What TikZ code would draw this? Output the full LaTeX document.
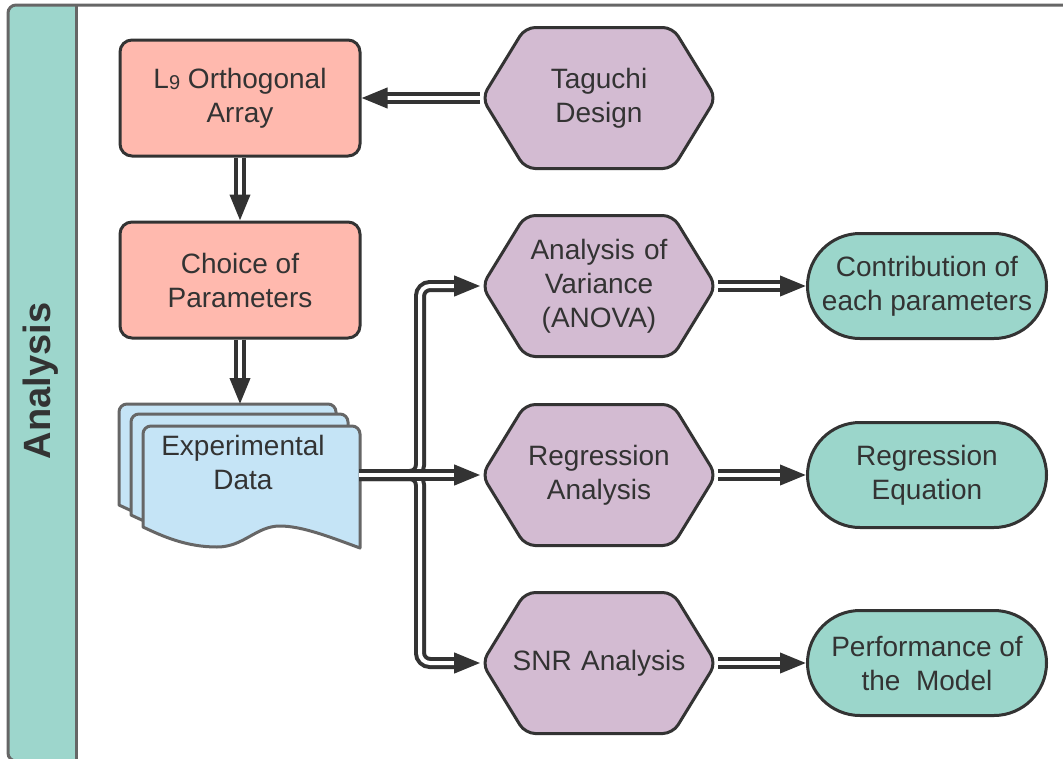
\documentclass[tikz,border=0pt]{standalone}
\usepackage{fontspec}
\setmainfont{Liberation Sans}
\usetikzlibrary{positioning,arrows.meta,shapes.symbols,shapes.misc}

% one sheet of the stacked data symbol, shifted by (#1,#2)
\newcommand{\datasheet}[2]{%
  \draw[sheet, shift={(#1,#2)}] (143,527) [rounded corners=8pt] -- (143,426) -- (360,426)
    [sharp corners] -- (360,548)
    .. controls (330,537) and (302,526) .. (280,526)
    .. controls (256,526) and (244,547) .. (217,547)
    .. controls (186,547) and (162,536) .. (143,527) -- cycle;}

\begin{document}
\begin{tikzpicture}[x=1pt,y=-1pt]
  \definecolor{lanegreen}{RGB}{157,214,204}
  \definecolor{boxred}{RGB}{255,185,174}
  \definecolor{hexpurple}{RGB}{211,187,210}
  \definecolor{termgreen}{RGB}{155,214,203}
  \definecolor{sheetblue}{RGB}{197,228,246}
  \definecolor{inkgray}{RGB}{51,51,51}
  \definecolor{framegray}{RGB}{102,102,102}
  \tikzset{
    txt/.style={font=\fontsize{28}{34}\selectfont, text=inkgray, align=center},
    stepbox/.style={
      txt, rectangle, rounded corners=12pt, draw=inkgray, fill=boxred,
      line width=3pt, minimum width=240pt, minimum height=116pt
    },
    hexa/.style={
      txt, signal, signal to=east and west, signal pointer angle=117,
      draw=inkgray, fill=hexpurple, line width=3pt, rounded corners=10pt,
      text width=146pt, minimum width=234pt, minimum height=141pt, inner sep=0pt
    },
    term/.style={
      txt, rounded rectangle, draw=inkgray, fill=termgreen,
      line width=3pt, minimum width=239pt, minimum height=105pt, inner sep=0pt
    },
    sheet/.style={draw=framegray, fill=sheetblue, line width=3pt, line join=round},
    flow/.style={
      draw=inkgray, double=white, double distance=4pt, line width=4pt,
      -{Triangle[length=26pt,width=20pt]}
    }
  }
  \useasboundingbox (0,0) rectangle (1063,758);
  \clip (0,0) rectangle (1063,758);

  % ======= lane frame =======
  \fill[lanegreen] (76,5) [rounded corners=8pt] -- (8,5) -- (8,761) [sharp corners] -- (76,761) -- cycle;
  \draw[framegray, line width=3pt, rounded corners=8pt] (8,5) rectangle (1090,761);
  \draw[framegray, line width=3pt] (76,5) -- (76,761);
  \node[font=\fontsize{38}{40}\selectfont\bfseries, text=inkgray, rotate=90] (lanetitle) at (41,381) {Analysis};

  % ======= design steps =======
  \node[stepbox] (ortho) at (240,98) {L\raisebox{-1pt}{\fontsize{20}{20}\selectfont 9} Orthogonal\\Array};
  \node[hexa] (taguchi) at (599,98) {Taguchi\\Design};
  \node[stepbox] (choice) at (240,280) {Choice of\\Parameters};

  % ======= stacked data sheets =======
  \datasheet{-24}{-22}
  \datasheet{-12}{-12}
  \datasheet{0}{0}
  \node[txt] (expdata) at (243,462) {Experimental\\Data};
  \coordinate (expin) at (240,404);
  \coordinate (expout) at (359,475);
  \coordinate (fork) at (420,475);

  % ======= analyses and results =======
  \node[hexa] (anova) at (599,286) {Analysis of\\Variance\\(ANOVA)};
  \node[hexa] (regr) at (599,475) {Regression\\Analysis};
  \node[hexa] (snr) at (599,663) {\makebox[146pt]{SNR Analysis}};
  \node[term] (contrib) at (927,286) {Contribution of\\each parameters};
  \node[term] (regeq) at (927,475) {Regression\\Equation};
  \node[term] (perf) at (927,663) {Performance of\\the\ \ Model};

  % ======= connectors =======
  \draw[flow] (taguchi.west) -- (ortho.east);
  \draw[flow] (ortho) -- (choice);
  \draw[flow] (choice) -- (expin);
  \draw[flow, rounded corners=10pt] (expout) -- (fork) |- (anova.west);
  \draw[flow, rounded corners=10pt] (expout) -- (fork) |- (snr.west);
  \draw[flow] (expout) -- (regr.west);
  \draw[flow] (anova.east) -- (contrib.west);
  \draw[flow] (regr.east) -- (regeq.west);
  \draw[flow] (snr.east) -- (perf.west);
\end{tikzpicture}
\end{document}
